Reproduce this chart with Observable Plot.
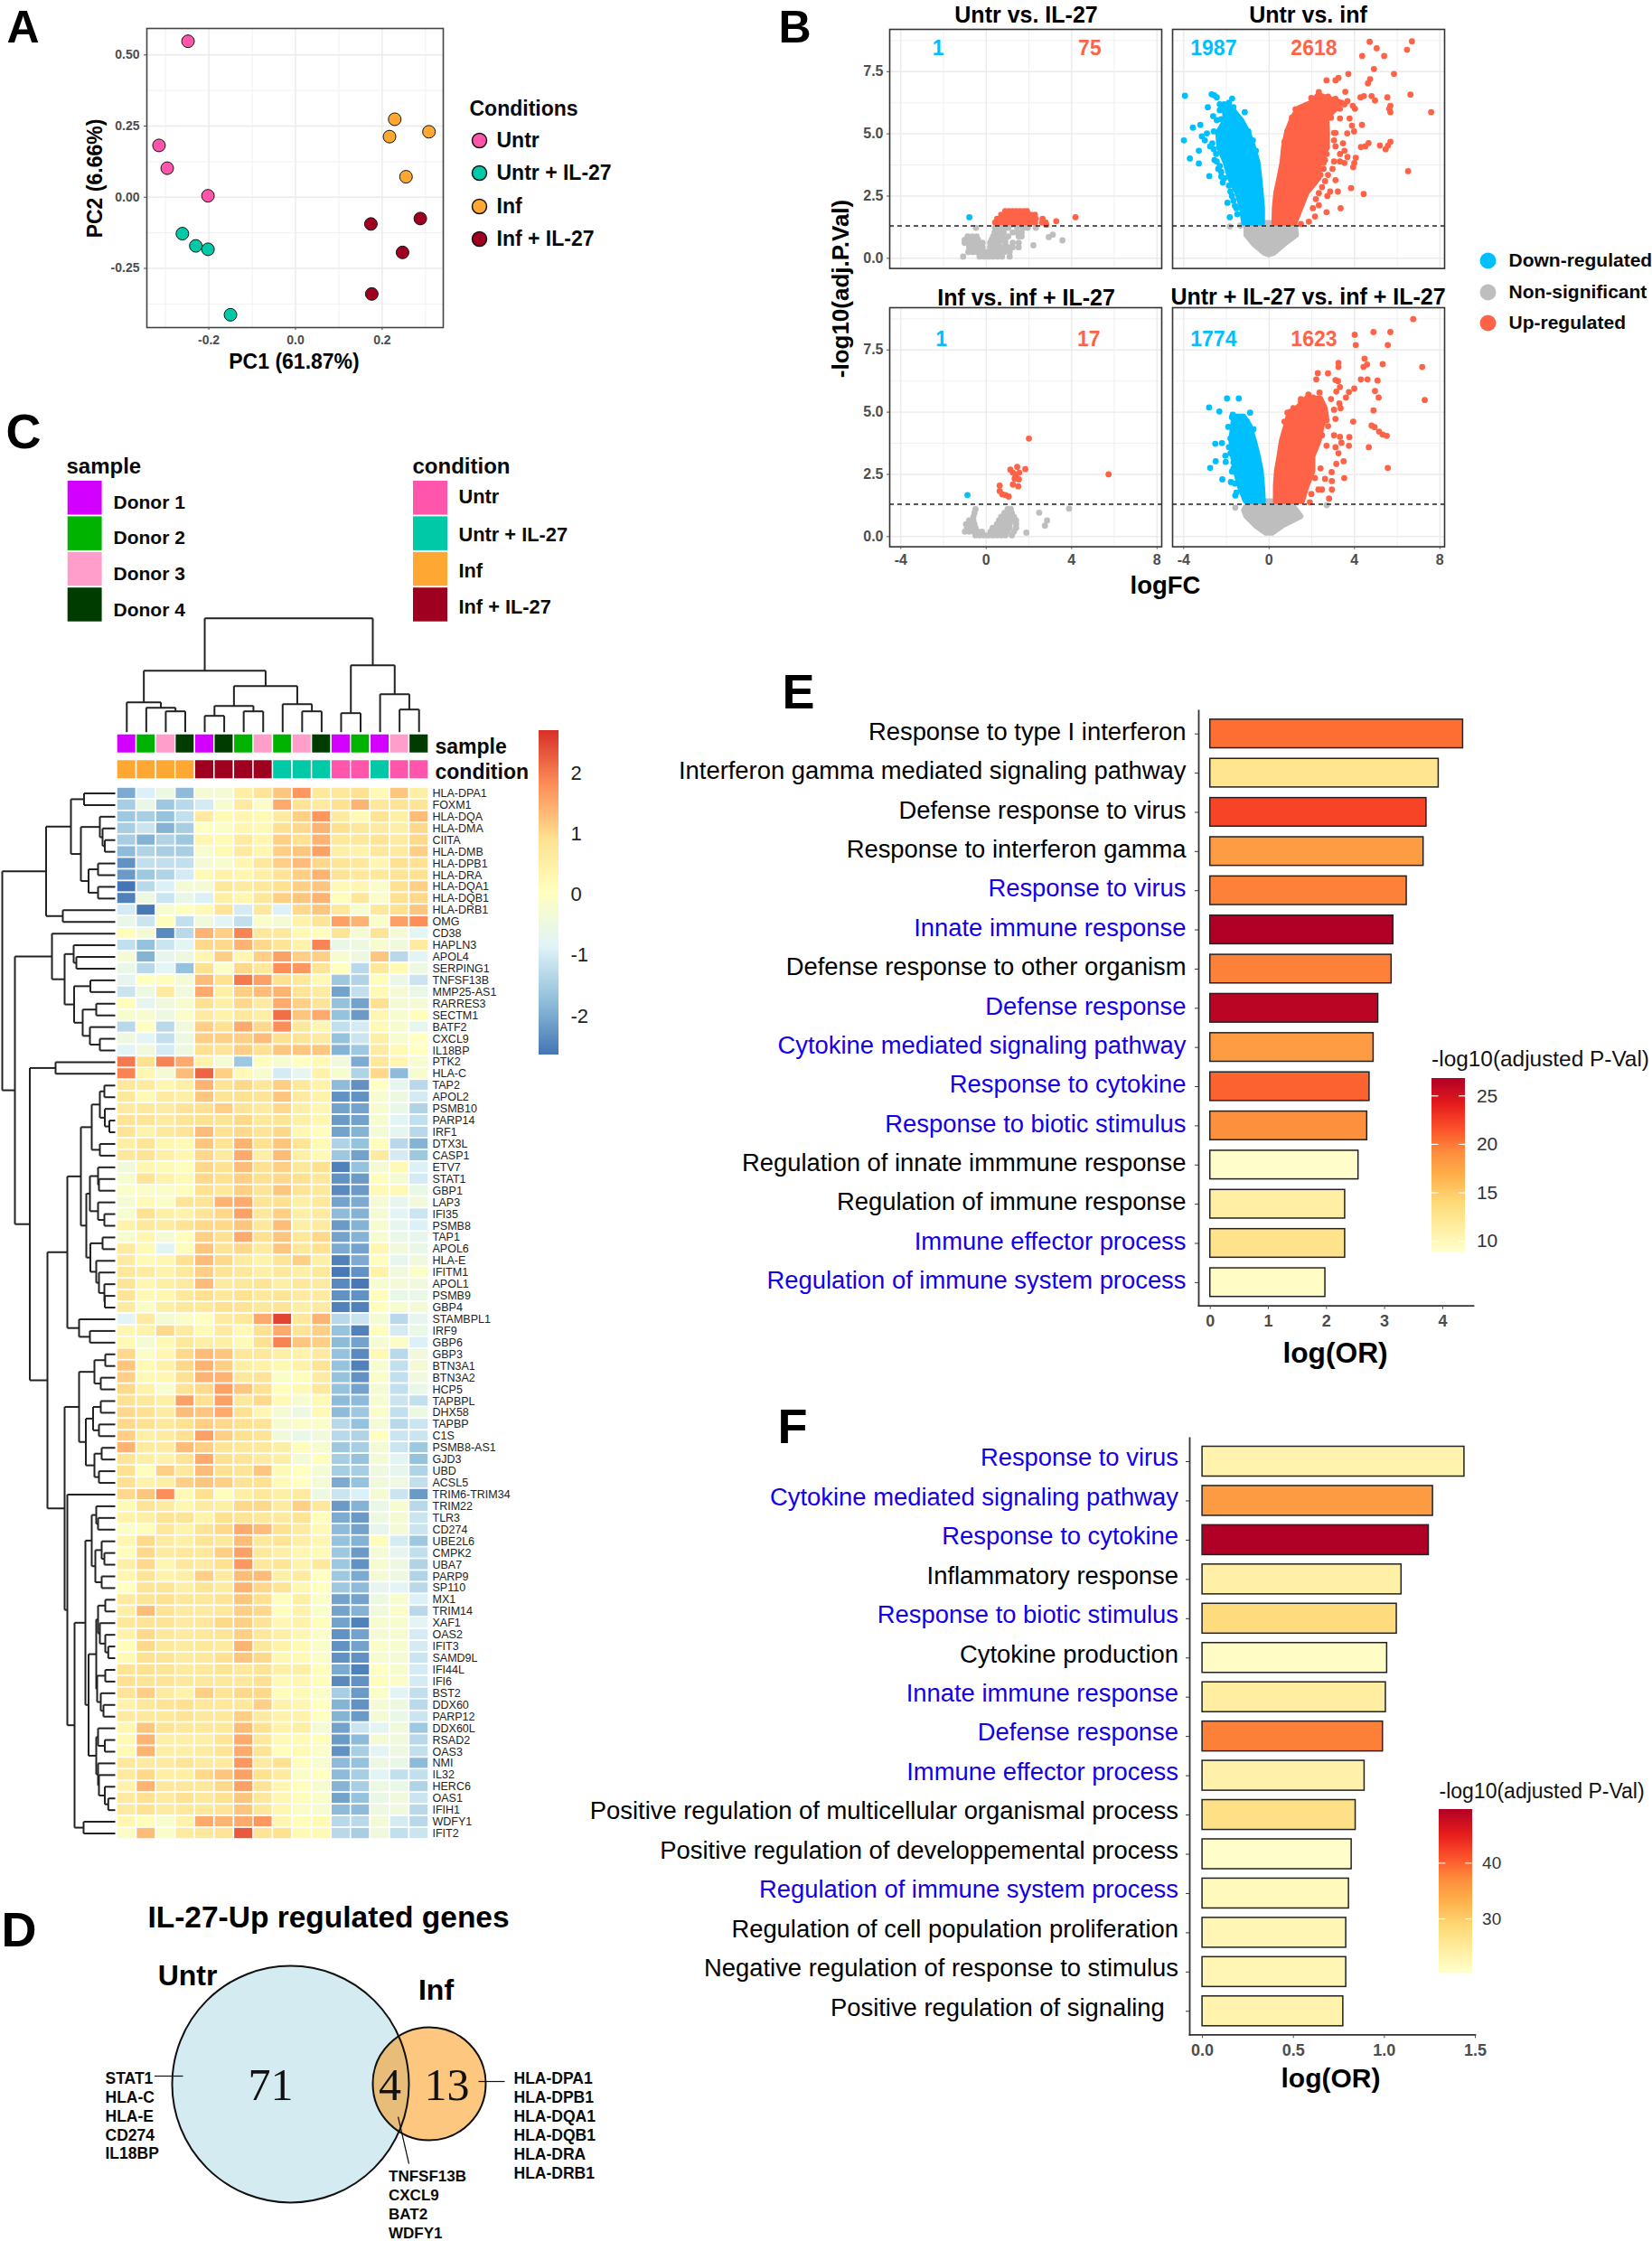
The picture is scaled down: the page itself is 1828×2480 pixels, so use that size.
<!DOCTYPE html>
<html><head><meta charset="utf-8">
<script src="https://cdn.jsdelivr.net/npm/d3@7"></script>
<script src="https://cdn.jsdelivr.net/npm/@observablehq/plot@0.6"></script>
<style>html,body{margin:0;padding:0;background:#fff}#page{position:relative;width:1828px;height:2480px;overflow:hidden;background:#fff}</style>
</head><body><div id="page"></div>
<script>
// ---------- DATA ----------
const condNames=["Untr","Untr + IL-27","Inf","Inf + IL-27"];
const condColors=["#ff55aa","#00c9a7","#ffa733","#a0001f"];
const donorNames=["Donor 1","Donor 2","Donor 3","Donor 4"];
const donorColors=["#d400ff","#00b300","#ff9ecb","#003c00"];
// A: PCA
const pcaCond=["Untr","Untr","Untr","Untr","Untr + IL-27","Untr + IL-27","Untr + IL-27","Untr + IL-27","Inf","Inf","Inf","Inf","Inf + IL-27","Inf + IL-27","Inf + IL-27","Inf + IL-27"];
const pc1=[-0.248,-0.315,-0.296,-0.202,-0.261,-0.230,-0.202,-0.150,0.229,0.217,0.308,0.255,0.174,0.288,0.247,0.176];
const pc2=[0.548,0.182,0.102,0.005,-0.128,-0.171,-0.183,-0.413,0.274,0.213,0.230,0.072,-0.094,-0.075,-0.194,-0.340];
// B: volcano, typed points [logFC, -log10 p] and bands [y, xLeft, xRight] for the saturated cloud cores
const uiUpRows=[[1.89,[.89,1.07,1.24,1.41,1.58,1.76,1.91]],[1.75,[.7,.89,1.1,1.31,1.52,1.73,1.94,2.08,2.28]],[1.59,[.51,.7,.9,1.1,1.31,1.52,1.73,1.94,2.15,2.32,2.64]],[1.44,[.42,.6,.82,1.03,1.24,1.45,1.66,1.87,2.08,2.29,2.62,2.78]],[1.49,[3.28]],[1.65,[4.18]],[1.35,[2.81]]];
const uiDown=[[-.79,1.65]];
const uiNsRows=[[.07,[-1.08,-.31,-.1,.11,.32,.53,.74,1.1]],[.25,[-.84,-.63,-.42,-.21,0,.21,.42,.63,.84,1.1]],[.44,[-.8,-.59,-.38,-.17,.18,.39,.6,.82,1.03,1.24,1.52]],[.62,[-1.01,-.8,-.59,-.38,-.17,.18,.39,.6,.89,1.24,1.52]],[.74,[-1.01,-.8,-.59,-.38,.25,.46,.68,.89]],[.88,[-.87,-.66,-.45,.32,.53,.75,1.03,1.52,1.66]],[1.04,[.39,.6,.82,1.24,1.45,1.66]],[1.22,[-.48,.42,.63,.84,1.03,1.45,1.73,1.94,2.32]],[1.35,[.53,.75,.96,1.17,1.38,1.66]],[.52,[2.21]],[.85,[2.93]],[.95,[3.12]],[.72,[3.57]]];
const iiUp=[[2.0,3.94],[5.73,2.5],[1.13,2.69],[1.45,2.8],[1.83,2.71],[1.25,2.57],[1.55,2.57],[1.33,2.33],[1.53,2.3],[1.25,2.09],[1.5,2.02],[.63,2.05],[.63,1.83],[.75,1.7],[1.05,1.61],[.9,1.67],[1.38,2.49]];
const iiDown=[[-.88,1.67]];
const iiNsRows=[[.05,[-.5,-.3,-.1,.1,.3,.5,.7,.9,1.2]],[.2,[-1.0,-.8,-.6,-.4,-.2,.2,.4,.6,.8,1.0,1.3]],[.35,[-.9,-.7,-.5,.3,.5,.7,.9,1.1,1.4]],[.5,[-.95,-.75,-.55,.5,.7,.9,1.1,1.4]],[.65,[-.8,-.6,.6,.8,1.0,1.2,1.4]],[.8,[-.6,.7,.9,1.1,1.3]],[.95,[-.55,.85,1.05,1.2]],[1.1,[-.5,1.0,1.15]],[.96,[2.48]],[1.12,[3.88]],[.65,[2.85]],[.44,[2.75]],[.16,[1.88]]];
const uvUp=[[4.71,8.70],[6.69,8.72],[5.04,8.44],[6.46,8.38],[4.36,8.13],[5.39,8.13],[4.91,7.61],[3.71,7.41],[5.85,7.41],[3.25,7.25],[3.11,7.15],[2.69,7.15],[4.73,7.2],[4.63,7.03],[3.57,6.69],[6.62,6.58],[4.44,6.52],[4.28,6.47],[4.80,6.52],[4.96,6.34],[5.54,6.47],[3.92,6.13],[4.02,6.01],[5.68,6.13],[5.63,6.01],[5.68,5.87],[7.59,5.87],[3.32,5.62],[3.77,5.62],[4.35,5.36],[3.88,5.33],[3.98,5.10],[3.66,5.02],[4.66,4.63],[4.51,4.50],[4.30,4.47],[5.19,4.53],[5.46,4.38],[5.68,4.68],[5.57,4.53],[4.06,4.04],[3.94,3.66],[3.99,3.83],[6.51,3.50],[2.76,3.35],[3.11,3.14],[3.84,2.82],[2.86,2.68],[3.22,2.68],[4.43,2.58],[2.73,2.50],[2.33,2.13],[2.05,2.01],[3.35,2.01],[2.69,1.85],[2.15,1.68],[1.86,1.47],[1.49,1.38],[3.46,4.62],[3.53,4.32],[3.11,4.5],[3.67,4.07],[3.32,3.89],[3.04,3.89],[3.53,3.83],[2.97,3.59],[2.62,3.95],[2.55,3.59],[3.32,4.19],[3.04,5.04],[3.04,4.74],[3.67,6.32],[3.53,6.19],[3.11,6.41],[2.76,6.5],[2.33,6.68],[1.63,6.04],[1.24,5.99],[2.48,2.86],[2.33,2.62],[2.19,2.38],
 [2.62,3.1],[2.41,3.35],[2.69,4.19],[3.11,5.04],[2.9,5.65],[3.32,6.01],[2.48,6.25],[1.98,6.44],[1.7,6.13],[1.35,5.89],[1.07,5.65],[.86,5.1],[.72,4.68],[2.76,6.07],[3.18,6.13],[3.39,6.25],[2.55,3.83]];
const uvDown=[[-3.94,6.53],[-2.69,6.59],[-2.45,6.47],[-2.57,6.55],[-1.73,6.42],[-2.87,6.07],[-1.14,5.87],[-2.62,5.71],[-2.45,5.55],[-3.22,5.36],[-3.57,5.25],[-3.99,4.74],[-3.15,4.9],[-2.91,5.02],[-3.01,4.74],[-2.76,4.5],[-2.59,4.38],[-3.29,4.32],[-3.71,4.01],[-3.29,3.81],[-2.56,3.95],[-2.38,3.59],[-2.8,3.3],[-2.24,3.28],[-2.17,3.04],[-1.81,2.68],[-1.95,2.23],[-1.67,2.32],[-1.6,2.11],[-1.84,1.65],[-2.24,6.07],[-1.95,6.13],[-1.67,6.07],
 [-2.31,6.19],[-2.10,6.19],[-1.88,6.25],[-2.31,5.95],[-2.03,5.83],[-1.74,5.77],[-1.53,5.65],[-1.35,5.47],[-1.18,5.28],[-2.24,5.59],[-1.95,5.53],[-1.67,5.53],[-.97,5.1],[-.76,4.74],[-.62,4.32],[-2.59,5.1],[-2.66,4.62],[-2.48,4.19],[-2.45,3.89],[-2.31,3.71],[-2.24,3.47],[-2.1,3.22],[-1.88,2.92],[-1.74,2.5],[-1.53,2.01],[-1.49,1.77]];
const uvNs=[[-1.84,1.28],[-1.35,1.31]];
const uvUpBand=[[1.41,.27,1.21],[2.01,.29,1.49],[2.62,.36,1.77],[3.22,.51,2.34],[3.83,.65,2.34],[4.44,.72,2.73],[5.04,.86,2.73],[5.65,1.14,2.7],[6.01,1.42,3.16],[6.25,2.05,3.3],[6.52,2.3,2.4]];
const uvDownBand=[[1.41,-1.15,-.31],[2.01,-1.25,-.31],[2.62,-1.46,-.37],[3.22,-1.81,-.44],[3.83,-2.01,-.52],[4.44,-2.31,-.72],[5.04,-2.36,-.97],[5.53,-2.01,-1.29],[6.0,-2.06,-1.74]];
const uvNsBand=[[1.4,-1.04,1.21],[.92,-1.04,1.28],[.56,-.69,.72],[.2,-.2,.23],[.14,0,0]];
const iiuUp=[[6.75,8.74],[4.89,8.22],[5.68,8.22],[4.01,8.11],[4.06,7.7],[5.56,7.7],[4.47,7.15],[3.25,6.98],[3.25,6.82],[4.59,6.92],[4.42,6.82],[5.32,6.93],[7.17,6.82],[2.28,6.57],[2.76,6.56],[2.21,6.32],[3.11,6.29],[3.23,6.25],[4.3,6.32],[4.61,6.32],[5.08,6.27],[3.32,6.01],[3.99,5.95],[4.96,5.85],[3.74,5.81],[3.15,5.83],[3.60,5.59],[5.13,5.59],[7.29,5.49],[2.9,5.53],[3.29,5.35],[3.35,5.16],[4.89,5.07],[3.11,4.73],[3.94,4.62],[4.8,4.46],[4.94,4.4],[5.15,4.22],[5.32,4.1],[5.51,4.05],[3.76,4.0],[3.32,4.01],[3.04,4.07],[3.74,3.65],[3.39,3.77],[3.11,3.59],[4.67,3.59],[3.25,3.35],[3.49,3.03],[3.15,2.92],[5.56,2.76],[2.93,2.59],[3.52,2.35],[2.62,2.32],[2.15,2.35],[2.94,2.23],[2.31,1.89],[2.48,1.89],[2.94,1.89],[2.81,1.53],[1.98,1.71],[1.91,1.38],[2.41,2.74],[1.0,5.02],[1.49,5.53],[1.84,5.71],[2.36,5.79],
 [2.05,5.59],[2.55,5.1],[2.69,4.68],[3.04,5.1],[2.76,4.44],[1.49,5.41],[1.14,5.16],[.86,4.98],[.72,4.62],[2.48,4.07],[2.69,3.65]];
const iiuDown=[[-2.81,5.19],[-1.97,5.55],[-1.42,5.55],[-2.33,5.03],[-.89,4.98],[-1.70,4.9],[-1.18,4.74],[-1.91,4.41],[-2.52,3.73],[-2.21,3.76],[-2.05,3.25],[-2.5,3.03],[-2.76,2.76],[-2.03,3.0],[-2.19,2.3],[-1.79,2.19],[-1.67,2.74],[-1.58,1.65],[-.76,4.29],
 [-1.74,4.8],[-1.53,4.62],[-1.25,4.78],[-1.04,4.62],[-.73,4.32],[-1.67,4.19],[-1.81,3.95],[-1.88,3.59],[-1.81,3.35],[-1.67,2.98],[-1.74,2.62],[-1.6,2.13],[-1.53,1.77]];
const iiuNs=[[-1.58,1.16],[2.7,1.26]];
const iiuUpBand=[[1.41,.34,1.56],[2.01,.34,1.77],[2.62,.39,2.05],[3.22,.51,2.05],[3.83,.62,2.34],[4.44,.82,2.48],[4.8,.93,2.69],[5.16,1.35,2.62],[5.53,1.77,2.41]];
const iiuDownBand=[[1.41,-1.07,-.27],[2.01,-1.35,-.31],[2.62,-1.53,-.37],[3.22,-1.67,-.51],[3.83,-1.74,-.69],[4.44,-1.67,-.9],[4.8,-1.6,-1.18]];
const iiuNsBand=[[1.4,-.9,.93],[1.04,-1.15,1.28],[.8,-1.04,1.49],[.44,-.62,.65],[.14,-.13,.16]];
// C: heatmap
const sampleRow=["Donor 1","Donor 2","Donor 3","Donor 4","Donor 1","Donor 4","Donor 2","Donor 3","Donor 2","Donor 3","Donor 4","Donor 1","Donor 2","Donor 1","Donor 3","Donor 4"];
const conditionRow=["Inf","Inf","Inf","Inf","Inf + IL-27","Inf + IL-27","Inf + IL-27","Inf + IL-27","Untr + IL-27","Untr + IL-27","Untr + IL-27","Untr","Untr","Untr + IL-27","Untr","Untr"];
const genes=["HLA-DPA1","FOXM1","HLA-DQA","HLA-DMA","CIITA","HLA-DMB","HLA-DPB1","HLA-DRA","HLA-DQA1","HLA-DQB1","HLA-DRB1","OMG","CD38","HAPLN3","APOL4","SERPING1","TNFSF13B","MMP25-AS1","RARRES3","SECTM1","BATF2","CXCL9","IL18BP","PTK2","HLA-C","TAP2","APOL2","PSMB10","PARP14","IRF1","DTX3L","CASP1","ETV7","STAT1","GBP1","LAP3","IFI35","PSMB8","TAP1","APOL6","HLA-E","IFITM1","APOL1","PSMB9","GBP4","STAMBPL1","IRF9","GBP6","GBP3","BTN3A1","BTN3A2","HCP5","TAPBPL","DHX58","TAPBP","C1S","PSMB8-AS1","GJD3","UBD","ACSL5","TRIM6-TRIM34","TRIM22","TLR3","CD274","UBE2L6","CMPK2","UBA7","PARP9","SP110","MX1","TRIM14","XAF1","OAS2","IFIT3","SAMD9L","IFI44L","IFI6","BST2","DDX60","PARP12","DDX60L","RSAD2","OAS3","NMI","IL32","HERC6","OAS1","IFIH1","WDFY1","IFIT2"];
const heatValues=[
[-2.0,-0.9,-0.5,-1.8,-0.3,-0.3,0.5,0.8,1.2,1.7,0.7,0.7,0.9,0.2,1.2,0.5],
[-1.5,-0.6,-1.6,-1.3,-1.0,-0.2,0.6,-0.1,1.5,0.8,0.6,0.9,1.4,0.7,0.8,0.8],
[-1.6,-1.5,-1.7,-1.2,0.6,0.2,0.3,0.2,0.6,1.1,1.7,0.6,0.2,0.8,0.5,1.3],
[-1.5,-1.1,-1.9,-1.5,0.0,-0.1,0.3,0.2,0.9,1.0,1.4,0.9,0.7,0.6,0.5,1.0],
[-1.5,-1.9,-1.4,-1.6,0.3,0.2,0.6,0.3,1.1,0.9,1.4,0.7,0.7,0.8,0.6,1.0],
[-1.8,-1.4,-1.5,-1.5,-0.2,0.2,0.6,0.3,1.1,1.2,1.6,0.5,0.4,0.7,0.6,1.1],
[-2.3,-1.2,-1.2,-1.2,-0.3,-0.2,0.3,0.7,1.1,1.3,1.0,0.8,0.7,0.3,0.9,0.9],
[-2.2,-1.6,-1.4,-1.0,0.2,0.4,0.3,0.5,0.8,1.1,1.4,0.8,0.7,0.7,0.8,0.9],
[-2.7,-1.3,-0.9,-0.3,-0.3,0.7,0.6,0.7,0.9,1.1,1.2,0.2,0.3,-0.1,0.9,1.1],
[-2.5,-0.5,-1.1,-0.6,-0.9,0.5,0.3,0.7,1.1,1.2,1.4,0.1,0.7,-0.1,0.9,1.0],
[-1.0,-2.6,-0.2,0.0,0.2,0.8,-1.0,0.7,-0.9,1.0,1.2,0.7,-0.2,0.7,0.9,1.2],
[-0.6,-1.1,0.1,-1.2,-0.4,-0.8,-1.2,-0.1,-0.3,0.4,0.8,1.6,1.4,-0.1,1.6,1.8],
[0.1,-0.3,-2.4,-1.3,1.4,1.1,1.9,0.7,0.7,0.2,0.1,0.8,-0.3,0.8,-0.3,-0.8],
[-1.2,-1.7,-1.1,-0.8,1.0,1.0,1.4,1.0,0.8,0.4,1.9,-0.6,-0.5,-0.2,-0.4,0.6],
[-0.3,-1.9,-0.7,-0.5,0.3,1.1,0.3,1.1,1.6,1.1,1.1,-0.2,-0.5,1.2,-1.3,-0.8],
[-0.6,-1.3,-0.8,-1.7,0.9,-0.1,1.0,0.7,1.8,1.7,0.8,0.0,-1.3,0.7,0.2,-0.5],
[-0.7,0.0,0.1,-0.3,1.3,0.9,2.0,1.6,0.9,0.7,0.2,-1.6,-1.4,0.1,-0.6,-1.1],
[-1.1,-0.5,0.6,-0.4,1.5,0.5,1.1,1.3,1.4,0.8,0.6,-2.1,-1.2,0.2,-0.3,-0.6],
[0.1,-0.7,-0.4,-0.2,0.9,0.5,1.0,0.6,1.5,1.1,0.8,-1.7,-2.1,0.9,-0.3,-0.3],
[-0.2,-0.2,-0.5,-0.1,0.6,0.4,0.7,0.5,2.1,1.2,1.5,-1.7,-2.2,0.3,-0.2,0.1],
[-1.3,0.0,-1.3,-0.4,1.1,0.9,1.5,1.0,1.8,0.7,0.3,-1.2,-1.0,0.2,-0.2,-0.7],
[-0.5,-0.8,-1.2,-0.5,1.1,1.1,1.1,1.3,0.9,0.8,0.6,-1.7,-1.1,0.5,-0.2,0.0],
[-0.8,-0.4,-1.0,-0.5,0.9,0.8,1.1,0.9,1.2,1.2,1.2,-1.9,-1.6,0.6,0.2,0.0],
[2.0,0.9,1.9,1.5,0.4,-0.3,-1.6,0.1,-0.2,0.0,0.2,-0.4,-2.0,0.7,0.3,-0.2],
[1.9,0.3,-0.3,1.3,2.2,1.1,0.2,-0.2,-1.0,-0.7,0.4,-0.2,-1.4,1.0,-1.8,-0.2],
[0.7,0.6,0.3,0.5,1.4,0.8,1.0,0.7,1.1,0.7,0.4,-1.8,-2.3,0.0,-0.7,-1.3],
[0.7,0.2,0.6,0.5,1.2,0.8,0.9,0.8,1.2,0.6,0.4,-2.3,-2.3,-0.2,-0.5,-1.0],
[0.6,0.7,0.6,0.8,0.9,1.1,0.8,0.6,1.0,0.5,0.3,-2.1,-2.1,-0.2,-0.6,-1.4],
[0.8,0.8,0.6,0.8,0.9,0.8,1.0,0.7,0.8,0.5,0.3,-2.2,-2.1,-0.2,-0.8,-1.2],
[0.8,0.4,0.7,0.8,1.3,0.9,1.0,0.8,1.0,0.3,0.1,-2.1,-1.9,-0.3,-0.7,-1.3],
[0.5,0.8,0.3,0.2,1.2,0.8,1.4,0.9,1.2,0.8,0.2,-1.4,-1.7,0.1,-1.3,-1.9],
[0.7,0.8,0.5,0.3,1.0,0.6,1.5,0.5,1.3,0.5,0.2,-1.6,-2.1,0.6,-1.0,-1.6],
[-0.4,0.3,0.2,0.1,1.0,0.9,1.3,0.9,1.1,0.7,0.9,-2.5,-1.7,-0.3,0.2,-0.9],
[-0.2,0.8,0.4,0.2,1.0,0.9,1.1,0.9,1.0,0.9,0.7,-2.3,-2.2,0.1,-0.3,-1.0],
[-0.1,-0.1,-0.1,0.1,0.9,0.7,1.1,0.8,1.2,0.8,0.7,-2.4,-2.2,0.2,0.2,-0.6],
[-0.3,0.2,-0.1,0.8,0.8,1.4,1.5,0.8,0.9,0.5,0.7,-2.1,-2.0,-0.3,-0.7,-0.4],
[-0.2,0.9,0.5,0.4,0.8,1.0,1.6,0.7,1.1,0.5,0.6,-1.8,-1.9,-0.3,-0.8,-1.1],
[0.4,0.7,0.6,0.8,1.0,1.0,1.2,0.7,1.3,0.5,0.6,-2.2,-1.9,-0.2,-0.7,-0.9],
[-0.2,0.3,-0.3,0.1,1.1,0.9,1.5,0.9,1.2,0.7,1.0,-2.1,-1.9,-0.2,-0.6,-0.7],
[0.6,0.2,-0.8,0.1,1.2,0.8,1.0,0.6,1.2,0.7,0.9,-2.0,-2.1,0.3,-0.4,-0.6],
[0.6,0.2,0.3,0.9,1.3,1.0,0.6,0.4,0.8,1.1,0.5,-2.5,-2.0,0.1,-0.7,-0.4],
[0.7,0.6,0.4,0.7,1.1,0.8,0.7,0.5,0.7,0.5,0.7,-2.6,-2.3,0.4,-0.4,-0.1],
[0.8,0.3,0.5,0.6,1.3,0.6,0.7,0.8,0.5,0.7,0.6,-2.4,-2.6,-0.2,-0.3,-0.4],
[0.8,0.2,0.3,0.7,0.9,0.7,0.9,0.7,0.8,0.6,0.6,-2.3,-2.3,0.1,-0.6,-0.6],
[0.6,-0.1,0.5,0.7,0.7,0.9,0.8,0.7,0.8,0.5,0.6,-2.5,-2.5,0.1,-0.2,-0.3],
[-0.8,0.6,-0.3,-0.1,0.0,0.6,0.7,1.5,2.5,0.7,1.4,-1.3,-1.1,-0.3,-1.3,-0.7],
[0.3,0.4,1.0,0.6,0.2,0.6,0.2,0.9,1.5,0.8,1.1,-1.7,-2.5,0.1,-1.0,-0.6],
[0.2,-0.3,0.2,0.7,0.5,0.5,0.2,0.9,1.9,1.2,1.1,-1.8,-2.1,-0.3,-0.1,-0.9],
[1.0,-0.1,0.3,1.0,1.3,1.2,0.7,0.7,0.5,0.4,0.6,-1.7,-2.4,0.2,-1.3,-0.4],
[1.2,0.2,0.4,1.0,1.4,1.1,0.5,0.4,0.2,0.4,0.8,-1.7,-2.5,-0.2,-1.2,-0.3],
[1.1,0.2,0.3,0.9,1.4,1.4,0.7,0.8,-0.1,0.1,0.6,-1.7,-2.3,-0.1,-1.2,-0.4],
[1.0,0.4,-0.2,0.8,1.0,1.6,1.2,0.9,0.1,0.2,0.7,-1.7,-2.1,-0.3,-1.2,-0.6],
[0.9,0.7,0.5,1.6,0.9,1.6,0.7,1.0,0.2,-0.2,0.2,-1.8,-1.8,-0.2,-1.1,-1.2],
[1.0,0.9,0.6,1.3,1.2,1.5,0.9,0.3,-0.3,-0.5,0.2,-1.8,-1.6,-0.1,-1.2,-0.5],
[1.0,0.9,0.7,0.9,1.1,1.0,0.9,0.8,-0.2,-0.1,-0.1,-1.3,-1.7,-0.3,-1.3,-1.1],
[1.1,0.5,0.6,0.9,1.6,1.1,0.9,0.8,-0.4,-0.6,-0.4,-1.3,-1.4,0.0,-1.1,-1.1],
[1.4,0.6,0.6,1.3,1.1,0.8,0.7,0.7,0.5,0.1,-0.2,-1.6,-1.5,-0.3,-1.1,-1.6],
[0.8,0.5,0.4,0.8,1.5,0.9,0.8,0.6,0.5,-0.3,0.1,-1.5,-1.7,-0.3,-0.8,-1.7],
[0.9,0.1,1.1,0.7,1.3,0.9,0.8,1.2,0.2,0.0,-0.3,-1.5,-1.5,-0.5,-0.7,-1.4],
[0.9,0.4,0.5,1.1,1.2,1.1,0.8,0.9,0.2,0.0,-0.3,-2.0,-1.7,-0.4,-0.5,-1.2],
[1.0,1.2,1.8,0.2,0.9,0.1,0.5,0.7,0.5,0.6,-0.5,-1.1,-0.9,-0.3,-1.1,-2.2],
[0.2,0.8,0.6,0.3,0.6,0.5,1.0,1.0,0.6,1.1,0.7,-2.2,-1.9,-0.6,-0.2,-1.3],
[0.4,0.5,0.8,0.8,0.4,0.9,0.8,0.7,0.6,0.8,0.1,-2.0,-2.2,-0.5,-0.3,-1.1],
[-0.1,0.1,0.7,0.4,0.8,1.0,1.5,1.3,0.9,0.6,0.2,-1.8,-2.1,-0.7,-0.3,-1.1],
[0.3,1.0,0.6,0.5,0.8,0.7,1.3,0.7,0.8,0.5,0.3,-1.7,-1.9,0.1,-1.0,-1.6],
[0.1,1.0,0.6,0.7,0.7,1.1,1.6,0.7,0.5,0.3,0.2,-1.6,-2.2,-0.3,-0.7,-1.2],
[0.5,1.0,0.3,0.7,0.6,0.9,1.7,0.7,0.8,0.4,0.7,-1.6,-2.3,-0.2,-0.5,-1.4],
[0.3,0.8,0.4,0.5,1.1,0.6,1.3,1.3,0.5,0.6,0.0,-1.6,-2.0,-0.3,-0.5,-1.4],
[0.0,0.8,0.8,0.5,0.8,0.6,1.4,1.0,0.8,0.3,0.0,-1.6,-1.8,-0.7,-0.8,-1.3],
[0.6,0.8,0.9,0.7,0.7,0.8,1.2,0.9,0.1,0.5,-0.1,-2.1,-2.1,-0.5,-0.2,-0.9],
[0.5,1.3,0.8,0.6,0.6,0.7,1.1,1.0,0.1,0.4,-0.1,-2.1,-1.9,-0.4,-0.1,-1.3],
[0.7,0.8,0.8,0.6,0.7,1.0,1.1,0.8,0.3,0.4,0.1,-2.1,-2.5,-0.2,-0.2,-0.8],
[0.4,1.0,0.7,0.6,0.7,0.8,1.1,0.7,0.5,0.3,-0.1,-2.3,-2.1,-0.3,-0.2,-1.0],
[0.1,1.0,0.7,0.6,0.7,0.6,1.4,0.7,0.4,0.2,-0.1,-2.3,-2.1,-0.1,-0.2,-1.0],
[0.2,0.9,0.8,0.6,0.7,0.9,1.2,1.0,0.3,0.2,-0.1,-2.3,-2.3,-0.2,-0.3,-1.1],
[0.8,0.9,0.8,0.6,0.7,0.8,0.7,0.8,0.5,0.5,0.1,-2.0,-2.5,0.0,-0.2,-1.0],
[0.9,0.8,0.8,0.7,0.7,0.7,0.7,0.9,0.2,0.3,0.1,-2.4,-2.3,0.1,-0.1,-1.0],
[0.8,1.1,0.6,0.4,1.1,0.8,1.0,1.0,0.1,0.2,-0.1,-1.5,-2.2,-0.1,-0.8,-1.2],
[0.4,0.7,0.8,0.9,0.7,0.7,0.7,1.1,0.4,0.3,0.0,-1.9,-2.3,-0.3,-0.5,-1.3],
[0.6,0.7,0.7,0.8,0.7,0.7,1.1,0.6,0.4,0.4,0.0,-1.9,-2.2,-0.3,-0.6,-1.1],
[0.3,1.2,0.8,0.7,0.7,0.7,1.3,0.9,0.4,0.5,-0.3,-2.1,-1.1,-0.8,-0.4,-1.6],
[0.2,1.4,0.5,0.5,0.5,0.8,1.5,0.7,0.2,0.2,0.1,-2.2,-1.8,-0.3,-0.4,-1.3],
[0.2,1.4,0.5,0.5,0.6,0.8,1.5,0.8,0.1,0.2,-0.1,-2.3,-1.5,-0.8,-0.5,-1.2],
[0.7,0.6,0.6,0.8,0.6,0.6,1.7,0.6,0.9,0.1,-0.2,-1.8,-1.7,-0.5,-0.6,-1.8],
[0.6,1.0,0.5,0.5,1.0,1.2,1.6,0.9,0.6,-0.1,0.0,-1.8,-1.5,-0.8,-1.2,-1.2],
[0.4,1.4,0.7,0.7,0.7,1.0,1.6,0.8,0.3,0.1,-0.2,-1.9,-1.5,-0.5,-0.6,-1.4],
[0.6,0.9,0.6,0.9,0.7,0.9,1.2,0.7,0.3,0.1,-0.1,-2.1,-1.7,-0.6,-0.4,-1.1],
[0.6,0.9,0.6,0.7,0.7,0.8,1.2,0.7,0.3,-0.1,-0.2,-1.8,-1.8,-0.5,-0.4,-1.3],
[0.3,0.1,-0.2,0.4,1.5,1.4,1.5,1.7,0.3,0.1,0.2,-1.3,-1.3,-0.3,-1.0,-1.3],
[-0.1,1.3,-0.1,0.6,0.7,0.8,2.3,0.8,0.9,0.2,0.2,-1.3,-1.5,-0.4,-1.2,-1.1]];
const heatStops=[-2.64,-1.75,-0.86,0.03,0.92,1.81,2.7];
const heatColors=["#4575b4","#91bfdb","#e0f3f8","#ffffbf","#fee090","#fc8d59","#d73027"];
// dendrograms: [left, right, mergeHeight]; a number is a leaf index
const colTree=[[[0,[1,[2,3,23],27],33],[[[4,5,18],[6,7,23],29],[8,[9,10,23],31],51],68],[[11,12,21],[13,[14,15,25],42],74],126];
const rowTree=[
 [[[0,1,34.5],[[2,[3,[4,5,11.5],14],17],[[6,7,19],[8,9,19],29.5],38],49],[10,11,58],76.5],
 [[12,[[13,[14,15,43],46],[[16,17,27.5],[[18,19,21],[20,[21,22,17],28],36],45.5],56],70],
  [[23,24,66],
   [[[[[[25,26,12],[27,[28,29,6.5],11.5],17],[30,31,17],26],
      [[[32,[33,34,18],19],[35,[36,37,12],19],28],[[38,39,14],[40,[41,[42,[43,44,11.5],12],18],21],27.5],32],38],
     [45,[46,47,28],40],53],
    [[[[48,49,11],[50,51,16],23],[[[52,53,16],[54,55,18],24.5],[[56,57,15],[58,59,18],23],32.5],40],
     [60,[[[[61,[62,63,19],21],[[64,[65,66,12],15],[67,68,15],22],26],
           [[[[69,70,11],[71,[72,[73,74,7.7],11],17],19],[[75,76,11],[77,[78,79,13],16],20],21],
            [[80,[81,82,11.5],19],[83,[84,[85,[86,87,7.7],11.5],18],19],21],29.5],33],
          [88,89,35],45],53],56],75],94.5],111],125];
// E
const termsE=["Response to type I interferon","Interferon gamma mediated signaling pathway","Defense response to virus","Response to interferon gamma","Response to virus","Innate immune response","Defense response to other organism","Defense response","Cytokine mediated signaling pathway","Response to cytokine","Response to biotic stimulus","Regulation of innate immmune response","Regulation of immune response","Immune effector process","Regulation of immune system process"];
const orE=[4.35,3.93,3.72,3.67,3.38,3.15,3.12,2.89,2.81,2.74,2.70,2.55,2.32,2.32,1.98];
const pE=[20.4,12.5,22.2,18.1,19.6,26.8,19.6,26.3,18.1,20.9,18.9,9,11.2,12.7,9.3];
// F
const termsF=["Response to virus","Cytokine mediated signaling pathway","Response to cytokine","Inflammatory response","Response to biotic stimulus","Cytokine production","Innate immune response","Defense response","Immune effector process","Positive regulation of multicellular organismal process","Positive regulation of developpemental process","Regulation of immune system process","Regulation of cell population proliferation","Negative regulation of response to stimulus","Positive regulation of signaling\u00a0\u00a0"];
const orF=[1.44,1.267,1.244,1.094,1.068,1.015,1.008,.992,.891,.842,.82,.805,.79,.79,.774];
const pF=[23.2,35.5,49.6,23.8,28,21,24.4,37.9,23.5,27,20.5,21.8,22.6,22.4,23.2];
const blueTerms=["Response to virus","Innate immune response","Defense response","Cytokine mediated signaling pathway","Response to cytokine","Response to biotic stimulus","Immune effector process","Regulation of immune system process"];
const ylOrRd=["#ffffcc","#ffeda0","#fed976","#feb24c","#fd8d3c","#fc4e2a","#e31a1c","#b10026"];
// D
const vennLeft=["STAT1","HLA-C","HLA-E","CD274","IL18BP"];
const vennRight=["HLA-DPA1","HLA-DPB1","HLA-DQA1","HLA-DQB1","HLA-DRA","HLA-DRB1"];
const vennBottom=["TNFSF13B","CXCL9","BAT2","WDFY1"];

// ---------- HELPERS ----------
const page=document.getElementById("page");
const FONT="'Liberation Sans',Arial,sans-serif";
function mount(opts,left,top){
  const el=Plot.plot({...opts,style:{position:"absolute",left:left+"px",top:top+"px",background:"transparent",overflow:"visible",maxWidth:"none",fontFamily:FONT}});
  page.appendChild(el);return el;
}
function panel(x0,y0,x1,y1,[mt,mr,mb,ml],opts){
  mount({width:x1-x0+ml+mr,height:y1-y0+mt+mb,marginTop:mt,marginRight:mr,marginBottom:mb,marginLeft:ml,...opts},x0-ml,y0-mt);
}
const rows=r=>r.flatMap(([y,xs])=>xs.map(x=>[x,y]));
function treeSegs(root){
  const segs=[];
  (function walk(n){
    if(typeof n==="number")return{p:n+.5,h:0};
    const a=walk(n[0]),b=walk(n[1]),h=n[2];
    segs.push({p1:a.p,h1:a.h,p2:a.p,h2:h},{p1:b.p,h1:b.h,p2:b.p,h2:h},{p1:a.p,h1:h,p2:b.p,h2:h});
    return{p:(a.p+b.p)/2,h};
  })(root);
  return segs;
}
function colorbar(x0,y0,x1,y1,lo,hi,color,ticks,o={}){
  const n=Math.round(y1-y0),st=(hi-lo)/n,bins=d3.range(n).map(i=>lo+(i+.5)*st);
  const marks=[Plot.rect(bins,{x1:0,x2:1,y1:d=>d-st*.5,y2:d=>d+st*.5,fill:d=>d,shapeRendering:"crispEdges"})];
  if(o.white)marks.push(Plot.ruleY(ticks,{x1:0,x2:.2,stroke:"white",strokeWidth:1.2}),Plot.ruleY(ticks,{x1:.8,x2:1,stroke:"white",strokeWidth:1.2}));
  marks.push(Plot.axisY({anchor:"right",ticks,tickSize:0,tickPadding:o.pad||10,fontSize:o.size||20,color:o.col||"#333",label:null,tickFormat:d=>String(d)}));
  panel(x0,y0,x1,y1,[2,50,2,2],{x:{domain:[0,1],axis:null},y:{domain:[lo,hi],label:null},color,marks});
}

// ---------- PANEL A ----------
panel(162,31,490,362,[0,10,40,60],{
  x:{domain:[-.343,.341],label:null},y:{domain:[-.458,.593],label:null},
  color:{domain:condNames,range:condColors},
  marks:[
    Plot.ruleX([-.3,-.1,.1,.3],{stroke:"#eeeeee",strokeWidth:.9}),
    Plot.ruleY([-.375,-.125,.125,.375],{stroke:"#eeeeee",strokeWidth:.9}),
    Plot.ruleX([-.2,0,.2],{stroke:"#ebebeb",strokeWidth:1.4}),
    Plot.ruleY([-.25,0,.25,.5],{stroke:"#ebebeb",strokeWidth:1.4}),
    Plot.frame({stroke:"#444",strokeWidth:1.6}),
    Plot.dot(pcaCond,{x:pc1,y:pc2,fill:pcaCond,stroke:"#111",strokeWidth:1,r:7}),
    Plot.axisX({ticks:[-.2,0,.2],tickFormat:d=>d.toFixed(1),tickSize:3,tickPadding:6,fontSize:14,fontWeight:"bold",color:"#4d4d4d",label:null}),
    Plot.axisY({ticks:[-.25,0,.25,.5],tickFormat:d=>d.toFixed(2),tickSize:3,tickPadding:5,fontSize:14,fontWeight:"bold",color:"#4d4d4d",label:null})
  ]});

// ---------- PANEL B ----------
const BLUE="#00bfff",GREY="#bebebe",RED="#ff6347";
function volcano(x0,y0,d){
  const P=(list,fill)=>Plot.dot(list,{x:p=>p[0],y:p=>p[1],fill,r:3.4});
  const B=(list,fill)=>list?Plot.areaX(list,{y:p=>p[0],x1:p=>p[1],x2:p=>p[2],fill,stroke:fill,strokeWidth:6.6,strokeLinejoin:"round"}):null;
  panel(x0,y0,x0+301,y0+264.6,[0,10,34,40],{
    x:{domain:[-4.52,8.22],label:null},y:{domain:[-.41,9.2],label:null},
    marks:[
      Plot.ruleX([-2,2,6],{stroke:"#eeeeee",strokeWidth:.9}),
      Plot.ruleY([1.25,3.75,6.25,8.75],{stroke:"#eeeeee",strokeWidth:.9}),
      Plot.ruleX([-4,0,4,8],{stroke:"#ebebeb",strokeWidth:1.4}),
      Plot.ruleY([0,2.5,5,7.5],{stroke:"#ebebeb",strokeWidth:1.4}),
      B(d.nsBand,GREY),P(d.ns,GREY),
      B(d.downBand,BLUE),P(d.down,BLUE),
      B(d.upBand,RED),P(d.up,RED),
      Plot.ruleY([1.3],{stroke:"#222",strokeWidth:1.5,strokeDasharray:"5,4"}),
      Plot.frame({stroke:"#333",strokeWidth:1.6}),
      Plot.text([d.nDown],{x:n=>d.nx[0],y:()=>d.ny,text:n=>n,fill:BLUE,fontSize:23,fontWeight:"bold"}),
      Plot.text([d.nUp],{x:n=>d.nx[1],y:()=>d.ny,text:n=>n,fill:RED,fontSize:23,fontWeight:"bold"}),
      d.showX?Plot.axisX({ticks:[-4,0,4,8],tickFormat:String,tickSize:3,tickPadding:6,fontSize:16,fontWeight:"bold",color:"#4d4d4d",label:null}):Plot.axisX({ticks:[]}),
      d.showY?Plot.axisY({ticks:[0,2.5,5,7.5],tickFormat:v=>v.toFixed(1),tickSize:3,tickPadding:4,fontSize:16,fontWeight:"bold",color:"#4d4d4d",label:null}):Plot.axisY({ticks:[]})
    ]});
}
volcano(984,32,{up:rows(uiUpRows),down:uiDown,ns:rows(uiNsRows),nDown:"1",nUp:"75",nx:[-2.25,4.85],ny:8.44,showY:true});
volcano(1296.5,32,{up:uvUp,down:uvDown,ns:uvNs,upBand:uvUpBand,downBand:uvDownBand,nsBand:uvNsBand,nDown:"1987",nUp:"2618",nx:[-2.6,2.1],ny:8.44});
volcano(984,340.4,{up:iiUp,down:iiDown,ns:rows(iiNsRows),nDown:"1",nUp:"17",nx:[-2.1,4.8],ny:7.94,showX:true,showY:true});
volcano(1296.5,340.4,{up:iiuUp,down:iiuDown,ns:iiuNs,upBand:iiuUpBand,downBand:iiuDownBand,nsBand:iiuNsBand,nDown:"1774",nUp:"1623",nx:[-2.6,2.1],ny:7.94,showX:true});

// ---------- PANEL C ----------
const heatColor={type:"linear",domain:heatStops,range:heatColors,clamp:true};
panel(128.6,683.6,473.6,809.3,[0,0,0,0],{x:{domain:[0,16],axis:null},y:{domain:[0,125.7],axis:null},
  marks:[Plot.link(treeSegs(colTree),{x1:"p1",x2:"p2",y1:"h1",y2:"h2",stroke:"#222",strokeWidth:2})]});
panel(2,870.8,127,2034.8,[0,0,0,0],{x:{domain:[125,0],axis:null},y:{domain:[90,0],axis:null},
  marks:[Plot.link(treeSegs(rowTree),{x1:"h1",x2:"h2",y1:"p1",y2:"p2",stroke:"#222",strokeWidth:2})]});
const cols=d3.range(16);
panel(128.6,812,473.6,862,[0,0,0,0],{
  x:{type:"band",domain:cols,padding:0,round:false,axis:null},
  y:{type:"band",domain:["sample","condition"],paddingInner:.25,paddingOuter:0,round:false,axis:null},
  color:{domain:[...donorNames,...condNames],range:[...donorColors,...condColors]},
  marks:[
    Plot.cell(sampleRow,{x:(d,i)=>i,y:()=>"sample",fill:d=>d,stroke:"white",strokeWidth:1.4}),
    Plot.cell(conditionRow,{x:(d,i)=>i,y:()=>"condition",fill:d=>d,stroke:"white",strokeWidth:1.4})
  ]});
const heatLong=genes.flatMap((g,r)=>heatValues[r].map((v,c)=>({g,c,v})));
panel(128.6,870.8,473.6,2034.8,[0,170,0,0],{
  x:{type:"band",domain:cols,padding:0,round:false,axis:null},
  y:{type:"band",domain:genes,padding:0,round:false,label:null},
  color:heatColor,
  marks:[
    Plot.cell(heatLong,{x:"c",y:"g",fill:"v",stroke:"white",strokeWidth:1.6}),
    Plot.axisY({anchor:"right",tickSize:0,tickPadding:4,fontSize:12.5,color:"#222",label:null})
  ]});
colorbar(596,808,618,1167,-2.64,2.7,heatColor,[-2,-1,0,1,2],{size:22,pad:13,col:"#222"});

// ---------- PANELS E / F ----------
function barPanel(x0,y0,x1,y1,terms,or,p,xDomain,xTicks,fmt,padIn,padOut,colorDomain,labelDx,labelDy){
  const data=terms.map((t,i)=>({t,or:or[i],p:p[i]}));
  const isBlue=d=>blueTerms.includes(d.t);
  panel(x0,y0,x1,y1,[0,10,40,700],{
    x:{domain:xDomain,label:null},
    y:{type:"band",domain:terms,paddingInner:padIn,paddingOuter:padOut,round:false,label:null},
    color:{type:"linear",domain:colorDomain,range:ylOrRd},
    marks:[
      Plot.barX(data,{x:"or",y:"t",fill:"p",stroke:"#222",strokeWidth:1.5}),
      Plot.frame({anchor:"left",stroke:"#333",strokeWidth:1.8}),
      Plot.frame({anchor:"bottom",stroke:"#333",strokeWidth:1.8}),
      Plot.axisX({ticks:xTicks,tickFormat:fmt,tickSize:4,tickPadding:6,fontSize:18,fontWeight:"bold",color:"#4d4d4d",label:null}),
      Plot.axisY({tickSize:4,tickFormat:()=>"",label:null,color:"#333"}),
      Plot.text(data.filter(d=>!isBlue(d)),{frameAnchor:"left",y:"t",text:"t",textAnchor:"end",dx:labelDx,dy:labelDy,fontSize:27.4,fill:"#000"}),
      Plot.text(data.filter(isBlue),{frameAnchor:"left",y:"t",text:"t",textAnchor:"end",dx:labelDx,dy:labelDy,fontSize:27.4,fill:"#1500e8"})
    ]});
}
const stepsE=d3.range(8).map(i=>8.9+i*(26.8-8.9)/7), stepsF=d3.range(8).map(i=>20.3+i*(49.6-20.3)/7);
barPanel(1326,786,1630,1444.6,termsE,orE,pE,[-.198,4.53],[0,1,2,3,4],String,.27,.228,stepsE,-14,-2);
barPanel(1315.5,1590.7,1631.5,2251,termsF,orF,pF,[-.07,1.5],[0,.5,1,1.5],d=>d.toFixed(1),.24,.2185,stepsF,-12.5,-4);
colorbar(1583.6,1193,1621,1385,8.9,26.8,{type:"linear",domain:stepsE,range:ylOrRd},[10,15,20,25],{white:true,size:21,pad:12});
colorbar(1592,2002,1628.6,2183,20.3,49.6,{type:"linear",domain:stepsF,range:ylOrRd},[30,40],{white:true,size:19,pad:11});

// ---------- OVERLAY: panel letters, titles, legends, Venn ----------
const T=(list,o)=>Plot.text(list,{x:d=>d[0],y:d=>d[1],text:d=>d[2],fontSize:d=>d[3],...o});
const boldStart=[
 [519,120,"Conditions",23],[549,155,"Untr",23],[549,191,"Untr + IL-27",23],[549,228,"Inf",23],[549,264,"Inf + IL-27",23],
 [1669,288,"Down-regulated",21],[1669,323,"Non-significant",21],[1669,357,"Up-regulated",21],
 [73,516,"sample",24],[125,556,"Donor 1",21],[125,595,"Donor 2",21],[125,635,"Donor 3",21],[125,675,"Donor 4",21],
 [456,516,"condition",24],[507,550,"Untr",21.8],[507,592,"Untr + IL-27",21.8],[507,632,"Inf",21.8],[507,672,"Inf + IL-27",21.8],
 [481,826,"sample",23],[481,854,"condition",23],
 ...vennLeft.map((g,i)=>[116,2300+i*20.8,g,17.5]),
 ...vennRight.map((g,i)=>[568,2300+i*21,g,17.5]),
 ...vennBottom.map((g,i)=>[429.5,2408+i*21,g,17])
];
const boldMid=[
 [325,400,"PC1 (61.87%)",23],
 [1135,16,"Untr vs. IL-27",25],[1447,16,"Untr vs. inf",25],[1135,329,"Inf vs. inf + IL-27",25],[1447,328,"Untr + IL-27 vs. inf + IL-27",25],
 [1289,648,"logFC",27.5],[1477,1497,"log(OR)",31.7],[1472,2300,"log(OR)",30],
 [363,2122,"IL-27-Up regulated genes",33.5]
];
const letters=[[7,46,"A",50],[861,46,"B",50],[6,495,"C",54],[1,2153,"D",54],[865,783,"E",54],[860,1596,"F",54]];
mount({width:1828,height:2480,margin:0,
  x:{domain:[0,1828],range:[0,1828],axis:null},y:{domain:[0,2480],range:[0,2480],axis:null},
  color:{type:"identity"},r:{type:"identity"},
  marks:[
    Plot.dot(condColors,{x:()=>530,y:(d,i)=>[155,191,228,264][i],fill:d=>d,stroke:"#111",r:8}),
    Plot.dot([BLUE,GREY,RED],{x:()=>1646,y:(d,i)=>[288,323,357][i],fill:d=>d,r:9}),
    Plot.rect(donorColors,{x1:()=>74.7,x2:()=>112.6,y1:(d,i)=>532+i*39.4,y2:(d,i)=>569.5+i*39.4,fill:d=>d}),
    Plot.rect(condColors,{x1:()=>457,x2:()=>495,y1:(d,i)=>532+i*39.4,y2:(d,i)=>569.5+i*39.4,fill:d=>d}),
    // Venn
    Plot.dot([[321,2306,131]],{x:d=>d[0],y:d=>d[1],r:d=>d[2],fill:"#d4ebf2"}),
    Plot.dot([[474.5,2305.5,62.5]],{x:d=>d[0],y:d=>d[1],r:d=>d[2],fill:"#fb8f00",fillOpacity:.5}),
    Plot.dot([[321,2306,131],[474.5,2305.5,62.5]],{x:d=>d[0],y:d=>d[1],r:d=>d[2],stroke:"#111",strokeWidth:2}),
    Plot.link([[170.5,2297,202,2297],[529,2303,558,2303],[440,2342,452,2394]],{x1:d=>d[0],y1:d=>d[1],x2:d=>d[2],y2:d=>d[3],stroke:"#111",strokeWidth:1.2}),
    T([[299,2323,"71",50],[431,2323,"4",50],[494,2323,"13",50]],{lineAnchor:"bottom",fontFamily:"'Liberation Serif',serif",fill:"#111"}),
    T([[207,2196,"Untr",32],[482,2212,"Inf",32]],{lineAnchor:"bottom",fontWeight:"bold",fill:"#000"}),
    T(letters,{lineAnchor:"bottom",textAnchor:"start",fontWeight:"bold",fill:"#000"}),
    T(boldStart,{textAnchor:"start",fontWeight:"bold",fill:"#0a0a0a"}),
    T(boldMid,{fontWeight:"bold",fill:"#000"}),
    T([[105,197,"PC2 (6.66%)",23],[930,319,"-log10(adj.P.Val)",26]],{rotate:-90,fontWeight:"bold",fill:"#000"}),
    T([[1583.6,1171.6,"-log10(adjusted P-Val)",24.4],[1592,1982,"-log10(adjusted P-Val)",23]],{textAnchor:"start",fill:"#111"})
  ]},0,0);
</script></body></html>
